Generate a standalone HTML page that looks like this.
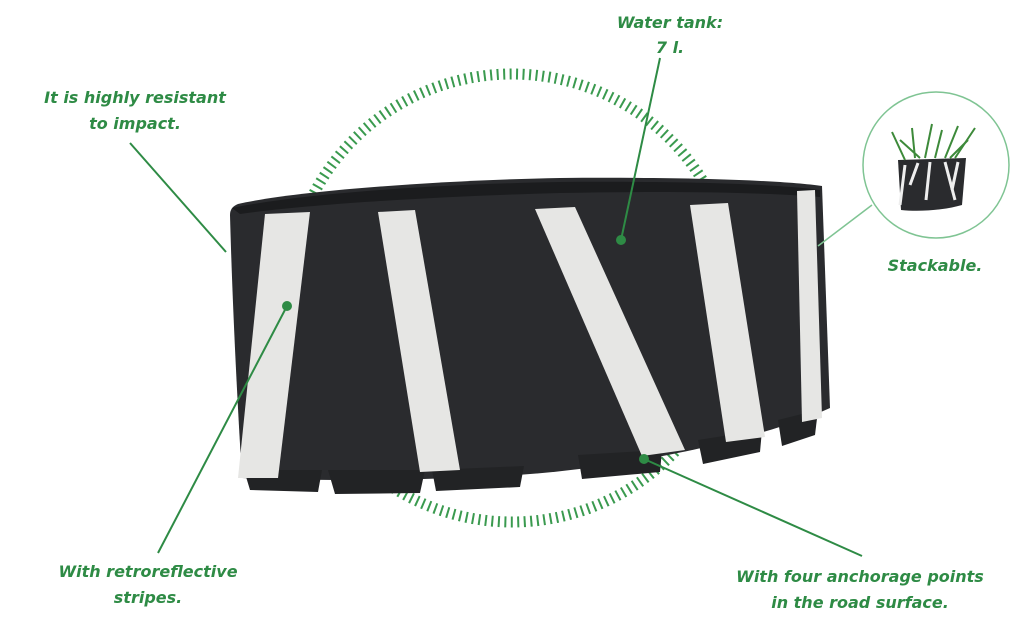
<!DOCTYPE html>
<html><head><meta charset="utf-8"><style>
html,body{margin:0;padding:0;background:#fff;}
body{width:1024px;height:643px;overflow:hidden;position:relative;}
svg{position:absolute;left:0;top:0;}
text{font-family:"DejaVu Sans","Liberation Sans",sans-serif;font-style:italic;font-weight:bold;font-size:16px;fill:#2e8b45;text-anchor:middle;}
</style></head><body>
<svg width="1024" height="643" viewBox="0 0 1024 643">
<circle cx="512" cy="298" r="224" fill="none" stroke="#3a9a4f" stroke-width="11" stroke-dasharray="2 4.5"/>
<!-- body -->
<path d="M238 204 C300 190 450 180 560 178 C680 177 780 180 822 186 L830 408 C760 440 620 470 500 476 C400 481 320 481 242 478 C236 380 232 290 230 215 Q230 207 238 204 Z" fill="#2a2b2e"/>
<!-- feet -->
<g fill="#222325">
<path d="M244 470 L250 490 L318 492 L322 470 Z"/>
<path d="M328 470 L335 494 L420 493 L425 470 Z"/>
<path d="M432 470 L436 491 L520 487 L524 466 Z"/>
<path d="M578 455 L582 479 L660 472 L662 450 Z"/>
<path d="M698 440 L703 464 L760 452 L762 430 Z"/>
<path d="M778 420 L782 446 L815 435 L818 410 Z"/>
</g>
<path d="M232 208 C310 192 450 184 560 182 C680 181 780 184 820 190 L820 197 C760 192 660 191 560 193 C450 196 320 203 240 214 Z" fill="#1b1c1e"/>
<!-- stripes -->
<g fill="#e6e6e4">
<path d="M265 214 L310 212 L278 478 L238 478 Z"/>
<path d="M378 212 L415 210 L460 470 L420 472 Z"/>
<path d="M535 209 L575 207 L685 450 L642 456 Z"/>
<path d="M690 205 L728 203 L765 437 L726 442 Z"/>
<path d="M797 191 L815 190 L822 418 L802 422 Z"/>
</g>
<!-- connectors -->
<g stroke="#2e8b45" stroke-width="2" fill="none">
<line x1="130" y1="143" x2="226" y2="252"/>
<line x1="287" y1="306" x2="158" y2="553"/>
<line x1="660" y1="58" x2="621" y2="240"/>
<line x1="644" y1="459" x2="862" y2="556"/>
</g>
<line x1="818" y1="246" x2="872" y2="205" stroke="#7fc493" stroke-width="1.5"/>
<g fill="#2e8b45">
<circle cx="287" cy="306" r="5"/>
<circle cx="621" cy="240" r="5"/>
<circle cx="644" cy="459" r="5"/>
</g>
<!-- stackable circle -->
<circle cx="936" cy="165" r="73" fill="#fff" stroke="#7fc493" stroke-width="1.5"/>
<path d="M898 160 L966 158 L962 205 C945 210 920 212 901 210 Z" fill="#2a2b2e"/>
<g stroke="#eee" stroke-width="3">
<line x1="905" y1="165" x2="900" y2="205"/>
<line x1="918" y1="163" x2="910" y2="185"/>
<line x1="930" y1="162" x2="926" y2="200"/>
<line x1="945" y1="162" x2="955" y2="200"/>
<line x1="958" y1="162" x2="952" y2="190"/>
</g>
<g stroke="#3d8a3a" stroke-width="2">
<line x1="905" y1="160" x2="892" y2="132"/><line x1="915" y1="158" x2="912" y2="128"/>
<line x1="925" y1="158" x2="932" y2="124"/><line x1="935" y1="158" x2="942" y2="130"/>
<line x1="945" y1="158" x2="958" y2="126"/><line x1="955" y1="158" x2="975" y2="128"/>
<line x1="920" y1="158" x2="900" y2="140"/><line x1="950" y1="158" x2="968" y2="140"/>
</g>
<!-- labels -->
<text x="135" y="103">It is highly resistant</text>
<text x="135" y="129">to impact.</text>
<text x="670" y="28">Water tank:</text>
<text x="670" y="53">7 l.</text>
<text x="935" y="271">Stackable.</text>
<text x="148" y="577">With retroreflective</text>
<text x="148" y="603">stripes.</text>
<text x="860" y="582">With four anchorage points</text>
<text x="860" y="608">in the road surface.</text>
</svg>
</body></html>
